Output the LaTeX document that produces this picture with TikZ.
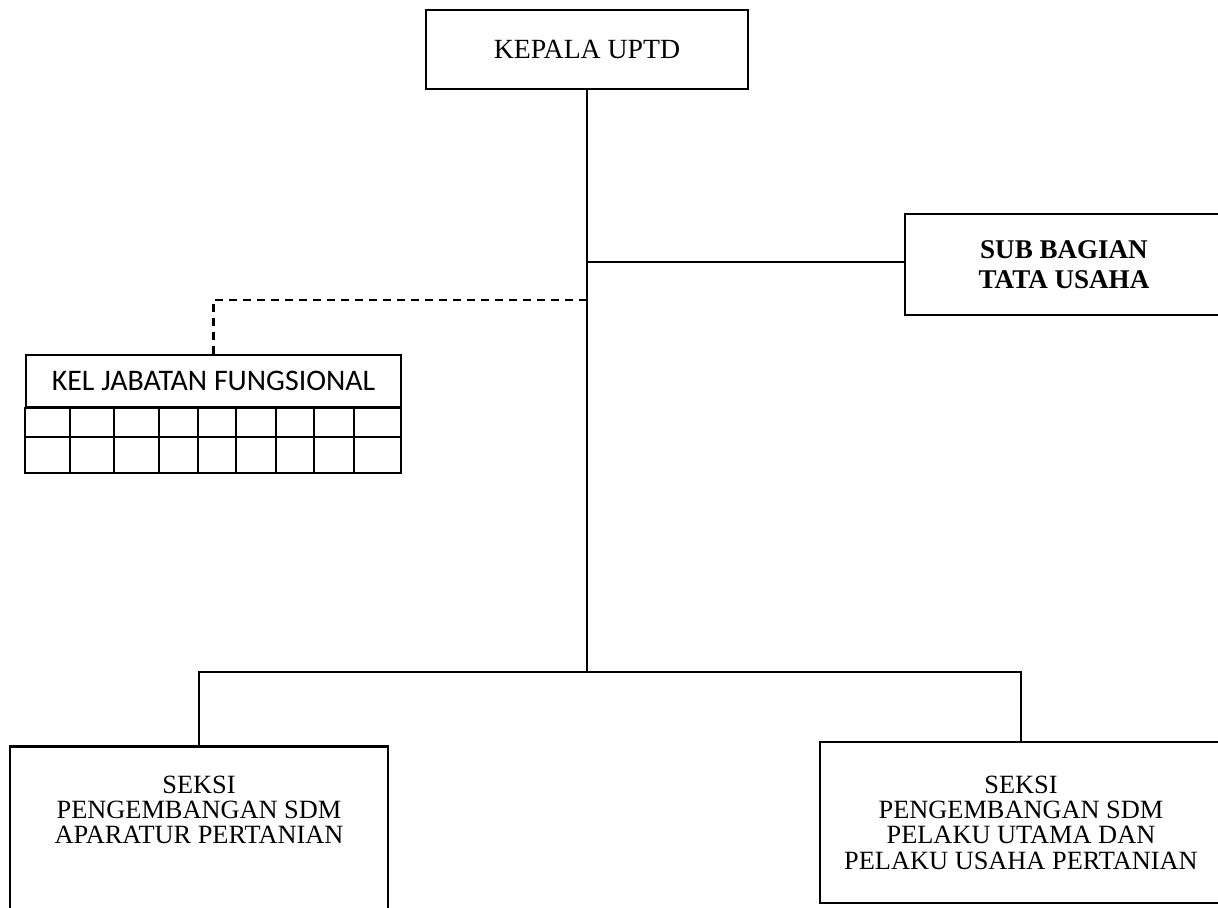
\documentclass[tikz,border=0pt]{standalone}
\usepackage{fontspec}
\setmainfont{Liberation Serif}
\newfontfamily\calfont{Carlito}
\begin{document}
\begin{tikzpicture}[x=0.02cm,y=-0.02cm,
  box/.style={draw, line width=1.4pt, inner sep=0pt, align=center},
  conn/.style={line width=1.4pt},
  dconn/.style={line width=1.4pt, dash pattern=on 0.16cm off 0.12cm},
  gridline/.style={line width=1.4pt}]
\useasboundingbox (0,0) rectangle (1218,907);
% Kepala
\node[box, minimum width=6.44cm, minimum height=1.58cm, font=\fontsize{15.8}{18}\selectfont] (kepala) at (587,49.5) {KEPALA UPTD};
% Sub bagian
\node[box, minimum width=6.36cm, minimum height=2.02cm, font=\bfseries\fontsize{15.4}{17}\selectfont] (sub) at (1064,264.5) {SUB BAGIAN\\TATA USAHA};
% Kel jabatan fungsional
\node[box, minimum width=7.5cm, minimum height=1.04cm, font=\calfont\fontsize{17}{20}\selectfont] (kel) at (213.5,381) {KEL JABATAN FUNGSIONAL};
\draw[gridline] (kel.south west) rectangle (401,473);
\draw[gridline] (26,437) -- (401,437);
\foreach \gx in {70,114,159,198,236,276,314,354}{
  \draw[gridline] (\gx,407) -- (\gx,473);
}
% Seksi left
\node[box, minimum width=7.56cm, minimum height=3.9cm] (seksiA) at (199,844) {};
\node[align=center, inner sep=0pt, font=\fontsize{15}{14.2}\selectfont] (seksiAtext) at (199,810) {SEKSI\\PENGEMBANGAN SDM\\APARATUR PERTANIAN};
% Seksi right
\node[box, minimum width=8.04cm, minimum height=3.22cm, font=\fontsize{15}{14.4}\selectfont] (seksiB) at (1021,822.5) {SEKSI\\PENGEMBANGAN SDM\\PELAKU UTAMA DAN\\PELAKU USAHA PERTANIAN};
% connectors
\coordinate (jsub) at (587,262);
\coordinate (jdash) at (587,300);
\coordinate (jbot) at (587,672);
\draw[conn] (kepala.south) -- (jbot);
\draw[conn] (jsub) -- (jsub -| sub.west);
\draw[dconn] (jdash) -| (kel.north);
\draw[conn] (jbot) -| (seksiA.north);
\draw[conn] (jbot) -| (seksiB.north);
\end{tikzpicture}
\end{document}
